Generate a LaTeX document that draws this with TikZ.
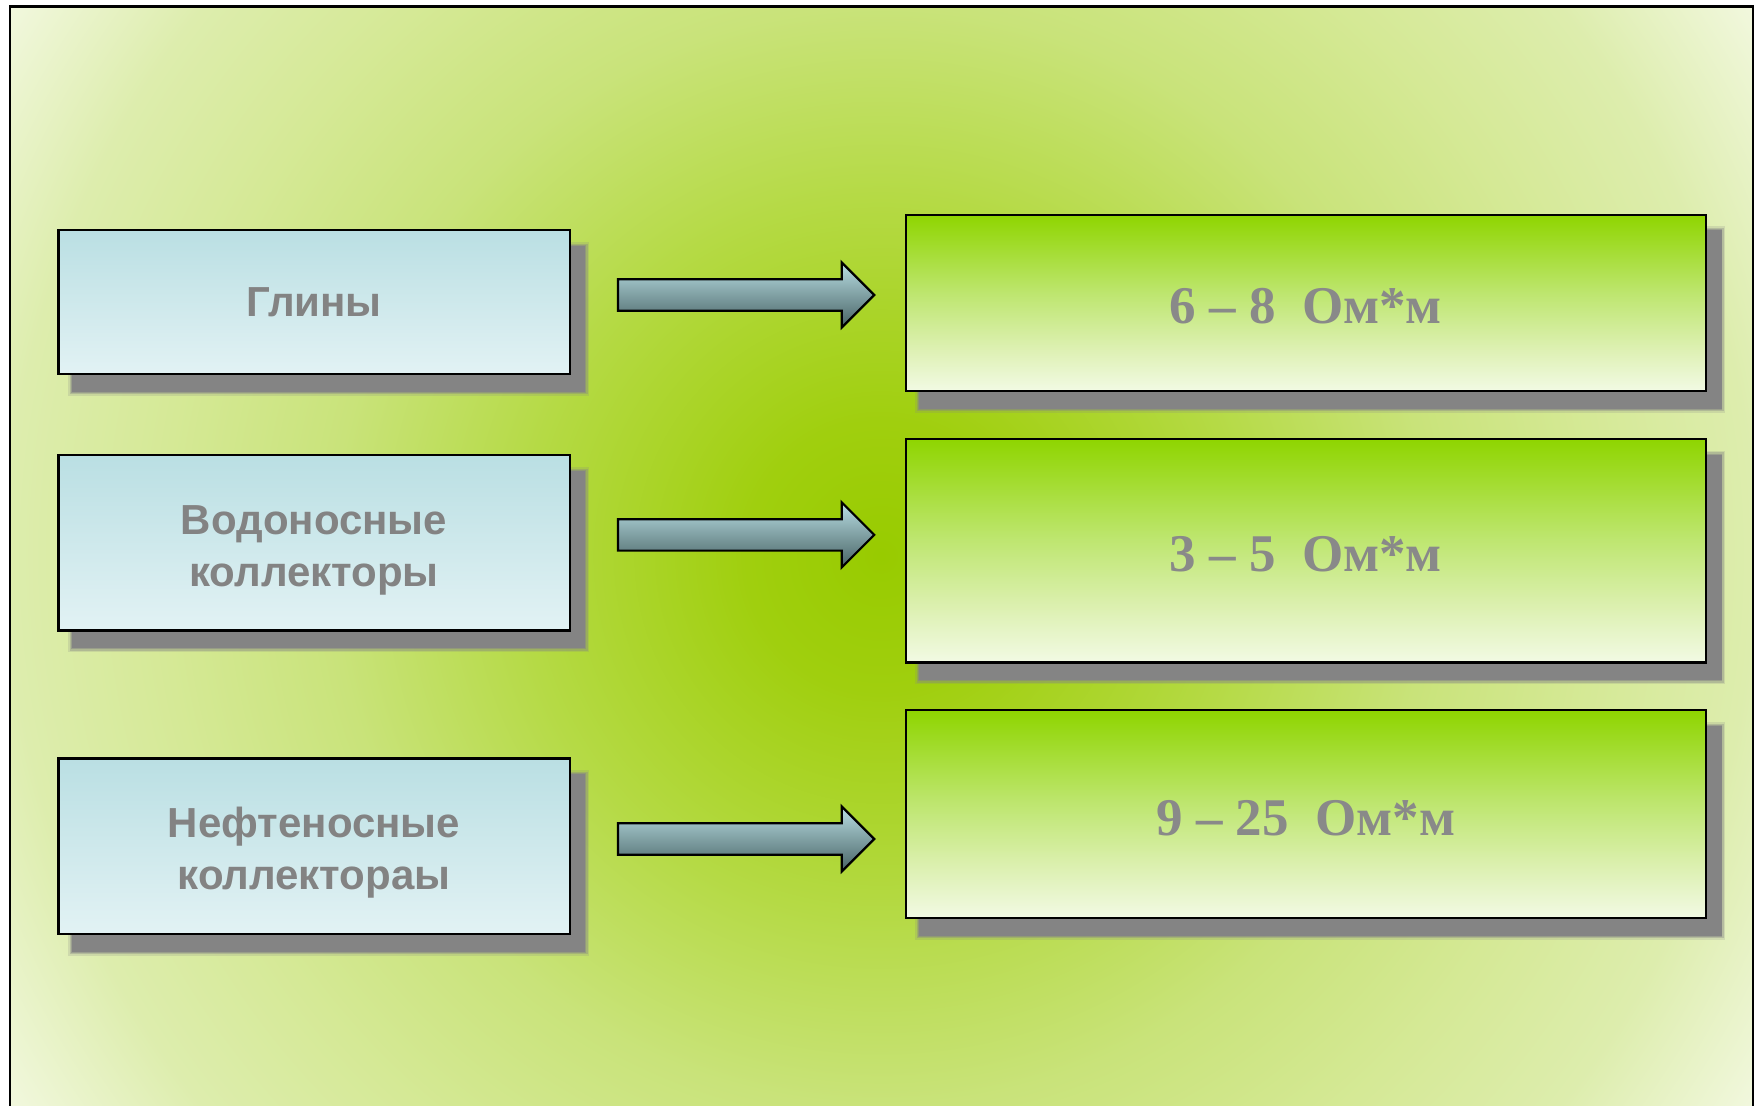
\documentclass[tikz,border=0pt]{standalone}
\usepackage{fontspec}
\setmainfont{Liberation Serif}
\newfontfamily\sansf{Liberation Sans}
\usetikzlibrary{calc}
\definecolor{bgca}{HTML}{98CB00}
\definecolor{bgcb}{HTML}{A0CF0E}
\definecolor{bgcc}{HTML}{B5DA45}
\definecolor{bgcd}{HTML}{C9E37A}
\definecolor{bgce}{HTML}{D5E996}
\definecolor{bgcf}{HTML}{DDEDAD}
\definecolor{bgcg}{HTML}{F2F8DF}
\definecolor{bgch}{HTML}{F6FAE8}
\definecolor{lboxtop}{HTML}{BADFE3}
\definecolor{lboxbot}{HTML}{E2F2F4}
\definecolor{rboxtop}{HTML}{8FD500}
\definecolor{rboxmid}{HTML}{BEE670}
\definecolor{rboxlow}{HTML}{DCF0B0}
\definecolor{rboxbot}{HTML}{F2FAE4}
\definecolor{arrtop}{HTML}{B9DEE4}
\definecolor{arrbot}{HTML}{476263}
\definecolor{shadowc}{HTML}{848484}
\definecolor{txtgray}{HTML}{838383}
\definecolor{txtgrayb}{HTML}{898989}
\pgfdeclareradialshading{bgshade}{\pgfpoint{0bp}{0bp}}{color(0bp)=(bgca); color(3bp)=(bgcb); color(8bp)=(bgcc); color(12.25bp)=(bgcd); color(16bp)=(bgce); color(19.4bp)=(bgcf); color(23bp)=(bgcg); color(25bp)=(bgch); color(50bp)=(bgch)}
\pgfdeclareverticalshading{lshade}{100bp}{color(0bp)=(lboxbot); color(25bp)=(lboxbot); color(75bp)=(lboxtop); color(100bp)=(lboxtop)}
\pgfdeclareverticalshading{rshade}{100bp}{color(0bp)=(rboxbot); color(25bp)=(rboxbot); color(37.5bp)=(rboxlow); color(52.5bp)=(rboxmid); color(75bp)=(rboxtop); color(100bp)=(rboxtop)}
\pgfdeclarelayer{background}
\pgfdeclarelayer{shadowlayer}
\pgfsetlayers{background,shadowlayer,main}
\newcommand\pxu{0.56186pt}
\newcommand\shadowbox[1]{%
  \foreach \e/\o in {3.5/0.2,2/0.35,0.8/0.5,0/1}{%
    \fill[shadowc,opacity=\o] ([shift={(13-\e,15-\e)}]#1.north west) rectangle ([shift={(13+\e,15+\e)}]#1.south east);
  }%
}
\newcommand\blockarrow[1]{%
  \path[arrowsty] (#1) ++(-114,-14) -- ++(199,0) -- ++(0,-15) -- ++(29,29) -- ++(-29,29) -- ++(0,-15) -- ++(-199,0) -- cycle;%
}
\tikzset{
  lbox/.style={draw=black, line width=1.1pt, shade, shading=lshade, minimum width=455*\pxu,
    font=\sansf\bfseries\fontsize{21}{26}\selectfont, text=txtgray, align=center, inner sep=0pt},
  rbox/.style={draw=black, line width=1.1pt, shade, shading=rshade, minimum width=712*\pxu,
    font=\bfseries\fontsize{26.5}{30}\selectfont, text=txtgrayb, inner sep=0pt},
  arrowsty/.style={draw=black, line width=1.1pt, top color=arrtop, bottom color=arrbot, line join=miter},
  framesty/.style={draw=black, line width=1.3pt},
}
\begin{document}
\begin{tikzpicture}[x=0.56186pt, y=-0.56186pt]
\useasboundingbox (0,0) rectangle (1568,984);
\begin{pgfonlayer}{background}
  \fill[white] (0,0) rectangle (1568,984);
  \begin{scope}
    \clip (9,6) rectangle (1560,984);
    \shade[shading=bgshade] (-216,-505) rectangle (1784,1495);
  \end{scope}
  \draw[framesty] (9,990) -- (9,6) -- (1560,6) -- (1560,990);
\end{pgfonlayer}

\node[lbox, minimum height=128*\pxu] (L1) at (279.5,269) {Глины};
\node[lbox, minimum height=156*\pxu] (L2) at (279.5,483) {\rule{0pt}{22pt}Водоносные\\коллекторы};
\node[lbox, minimum height=156*\pxu] (L3) at (279.5,753) {\rule{0pt}{21.5pt}Нефтеносные\\коллектораы};

\node[rbox, minimum height=157*\pxu] (R1) at (1162,269.5) {\rule{0pt}{21pt}6 – 8\ \ Ом*м};
\node[rbox, minimum height=199*\pxu] (R2) at (1162,490) {\rule{0pt}{21pt}3 – 5\ \ Ом*м};
\node[rbox, minimum height=185*\pxu] (R3) at (1162,724.5) {\rule{0pt}{21.5pt}9 – 25\ \ Ом*м};

\coordinate (A1) at (664,262.5);
\coordinate (A2) at (664,476);
\coordinate (A3) at (664,746.6);
\blockarrow{A1}
\blockarrow{A2}
\blockarrow{A3}

\begin{pgfonlayer}{shadowlayer}
  \shadowbox{L1}\shadowbox{L2}\shadowbox{L3}
  \shadowbox{R1}\shadowbox{R2}\shadowbox{R3}
\end{pgfonlayer}
\end{tikzpicture}
\end{document}
